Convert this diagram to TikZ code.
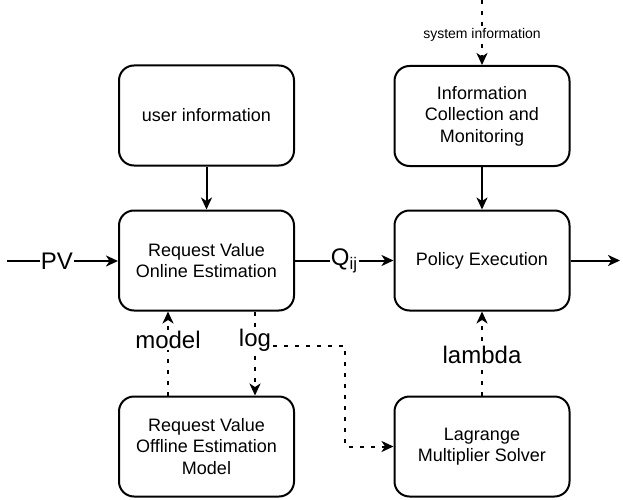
\documentclass[tikz,border=0pt]{standalone}
\usepackage{fontspec}
\setmainfont{Liberation Sans}
\usetikzlibrary{arrows.meta}
\begin{document}
\begin{tikzpicture}[x=1pt, y=-1pt, line join=round, >={Stealth[length=12pt,width=11pt,inset=3.5pt]},
	box/.style={draw, line width=2pt, rounded corners=15pt, minimum width=175pt, minimum height=100pt,
		align=center, font=\fontsize{18}{21.5}\selectfont},
	lbl/.style={fill=white, inner sep=1pt, font=\fontsize{24}{28}\selectfont},
	conn/.style={line width=2pt, ->},
	dotline/.style={conn, dash pattern=on 4pt off 7pt}]
	\useasboundingbox (0,0) rectangle (623,500);
	\node[box] (user) at (206.5,115.5) {user information};
	\node[box] (online) at (206.5,260.5) {Request Value\\Online Estimation};
	\node[box] (offline) at (206.5,446.5) {Request Value\\Offline Estimation\\Model};
	\node[box] (info) at (482,116) {Information\\Collection and\\Monitoring};
	\node[box] (policy) at (482,260.5) {Policy Execution};
	\node[box] (lagr) at (482,446.5) {Lagrange\\Multiplier Solver};
	\path
	(7,261) coordinate (pvin)
	(620,260.5) coordinate (pout)
	(482,0) coordinate (sysin)
	(345,347) coordinate (turn);
	\draw[conn] (user) -- (online);
	\draw[conn] (info) -- (policy);
	\draw[conn] (pvin) -- node[lbl, pos=0.45] {PV} (pvin -| online.west);
	\draw[conn] (online) -- node[lbl, pos=0.5] {Q\textsubscript{ij}} (policy);
	\draw[conn] (policy) -- (pout);
	\draw[dotline] ([xshift=-38.5pt]offline.north) -- node[lbl, pos=0.66] {model} ([xshift=-38.5pt]online.south);
	\draw[dotline] ([xshift=48.5pt]online.south) -- node[lbl, pos=0.34] (logl) {log} ([xshift=48.5pt]offline.north);
	\draw[dotline] (lagr) -- node[lbl, pos=0.48] {lambda} (policy);
	\draw[dotline] (sysin) -- node[fill=white, inner sep=1pt, pos=0.53, font=\fontsize{14}{16}\selectfont] {system information} (info);
	\draw[dotline] (logl.base east) -- (logl.base east -| turn) -- (turn |- lagr.west) -- (lagr.west);
\end{tikzpicture}
\end{document}
